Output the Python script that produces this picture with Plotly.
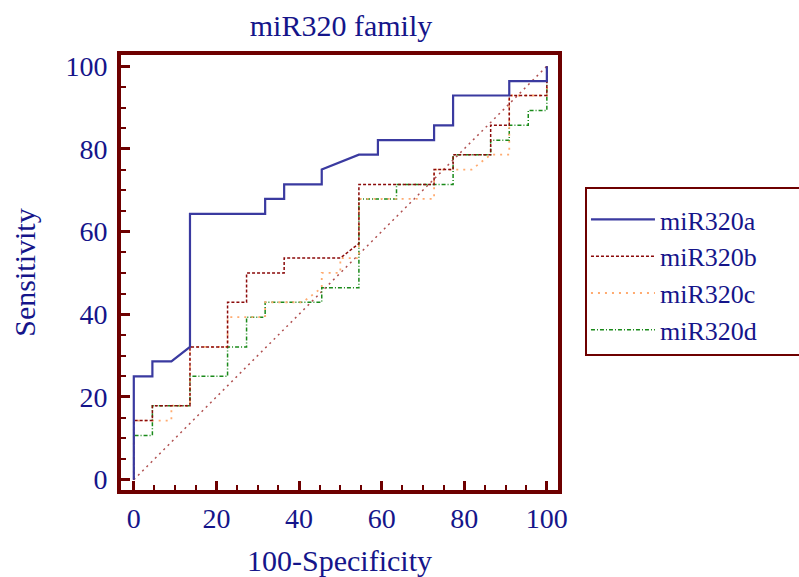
import plotly.graph_objects as go

# ROC step curves (x = 100-Specificity, y = Sensitivity)
a_x = [0, 0, 4.5, 4.5, 9.1, 13.6, 13.6, 31.8, 31.8, 36.4, 36.4, 45.5, 45.5, 54.5, 59.1, 59.1, 72.7, 72.7, 77.3, 77.3, 90.9, 90.9, 100, 100]
a_y = [0, 25, 25, 28.6, 28.6, 32.1, 64.3, 64.3, 67.9, 67.9, 71.4, 71.4, 75, 78.6, 78.6, 82.1, 82.1, 85.7, 85.7, 92.9, 92.9, 96.4, 96.4, 100]

b_x = [0, 0, 4.5, 4.5, 13.6, 13.6, 22.7, 22.7, 27.3, 27.3, 36.4, 36.4, 50, 54.5, 54.5, 72.7, 72.7, 77.3, 77.3, 86.4, 86.4, 90.9, 90.9, 100, 100]
b_y = [0, 14.3, 14.3, 17.9, 17.9, 32.1, 32.1, 42.9, 42.9, 50, 50, 53.6, 53.6, 57.1, 71.4, 71.4, 75, 75, 78.6, 78.6, 85.7, 85.7, 92.9, 92.9, 100]

c_x = [0, 0, 9.1, 9.1, 13.6, 13.6, 22.7, 22.7, 31.8, 31.8, 40.9, 45.5, 45.5, 50, 50, 54.5, 54.5, 72.7, 72.7, 81.8, 86.4, 90.9, 90.9, 100, 100]
c_y = [0, 14.3, 14.3, 17.9, 17.9, 32.1, 32.1, 39.3, 39.3, 42.9, 42.9, 46.4, 50, 50, 53.6, 53.6, 67.9, 67.9, 75, 75, 78.6, 78.6, 92.9, 92.9, 100]

d_x = [0, 0, 4.5, 4.5, 13.6, 13.6, 22.7, 22.7, 27.3, 27.3, 31.8, 31.8, 45.5, 45.5, 54.5, 54.5, 63.6, 63.6, 77.3, 77.3, 86.4, 86.4, 90.9, 90.9, 95.5, 95.5, 100, 100]
d_y = [0, 10.7, 10.7, 17.9, 17.9, 25, 25, 32.1, 32.1, 39.3, 39.3, 42.9, 42.9, 46.4, 46.4, 67.9, 67.9, 71.4, 71.4, 78.6, 78.6, 82.1, 82.1, 85.7, 85.7, 89.3, 89.3, 100]

ref_x = [0, 100]
ref_y = [0, 100]

series_names = ["miR320a", "miR320b", "miR320c", "miR320d"]
x_ticks = [0, 20, 40, 60, 80, 100]
y_ticks = [0, 20, 40, 60, 80, 100]

FRAME = "#6e0000"
TXT = "#15158a"
FONT = "Liberation Serif, Times New Roman, serif"

fig = go.Figure()
fig.add_trace(go.Scatter(x=ref_x, y=ref_y, mode="lines", showlegend=False,
                         line=dict(color="#b05050", width=1.5, dash="2px,4px")))
fig.add_trace(go.Scatter(x=d_x, y=d_y, mode="lines", name=series_names[3],
                         line=dict(color="#1a8a1a", width=1.5, dash="4px,2px,1px,2px")))
fig.add_trace(go.Scatter(x=c_x, y=c_y, mode="lines", name=series_names[2],
                         line=dict(color="#ffab70", width=1.8, dash="2px,5px")))
fig.add_trace(go.Scatter(x=b_x, y=b_y, mode="lines", name=series_names[1],
                         line=dict(color="#8b0a0a", width=1.5, dash="3px,2px")))
fig.add_trace(go.Scatter(x=a_x, y=a_y, mode="lines", name=series_names[0],
                         line=dict(color="#3a3aa0", width=2.2)))

axis_common = dict(
    showgrid=False, zeroline=False,
    showline=True, linecolor=FRAME, linewidth=4, mirror=True,
    ticks="inside", ticklen=9, tickwidth=3, tickcolor=FRAME,
    tickfont=dict(family=FONT, size=28, color=TXT),
    minor=dict(dtick=5, ticks="inside", ticklen=5, tickwidth=2, tickcolor=FRAME, showgrid=False),
)

fig.update_xaxes(**axis_common, range=[-3.1, 102.7], tickvals=x_ticks, ticktext=[str(v) for v in x_ticks],
                 title=dict(text="100-Specificity", font=dict(family=FONT, size=30, color=TXT), standoff=22),
                 ticklabelstandoff=0)
fig.update_yaxes(**axis_common, range=[-2.5, 102.7], tickvals=y_ticks, ticktext=[str(v) for v in y_ticks],
                 title=dict(text="Sensitivity", font=dict(family=FONT, size=30, color=TXT), standoff=22),
                 ticklabelstandoff=4)

# legend frame (extends past the right edge like the reference)
fig.add_shape(type="rect", xref="paper", yref="paper",
              x0=(586 - 121) / 437, x1=(812 - 121) / 437,
              y0=(490 - 355) / 435, y1=(490 - 188) / 435,
              line=dict(color=FRAME, width=2), fillcolor="white", layer="above")

fig.update_layout(
    width=799, height=577,
    margin=dict(l=121, r=241, t=55, b=87, autoexpand=False),
    paper_bgcolor="white", plot_bgcolor="white",
    title=dict(text="miR320 family", x=(341 / 799), xanchor="center", y=1 - 25 / 577, yanchor="middle",
               font=dict(family=FONT, size=30, color=TXT)),
    legend=dict(x=1.064, y=(490 - 196) / 435, xanchor="left", yanchor="top", traceorder="reversed",
                bgcolor="rgba(0,0,0,0)", borderwidth=0,
                font=dict(family=FONT, size=26, color=TXT), itemwidth=64),
    showlegend=True,
)

fig.write_html("out.html")
